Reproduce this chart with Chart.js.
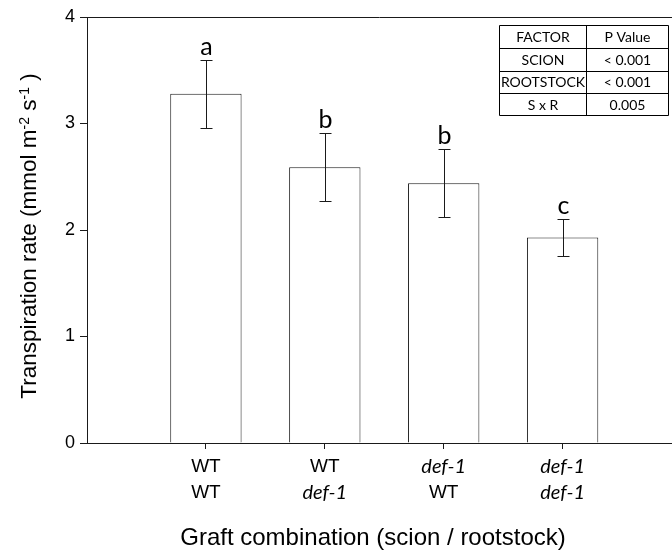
<!DOCTYPE html>
<html>
<head>
<meta charset="utf-8">
<script src="https://cdn.jsdelivr.net/npm/chart.js@4/dist/chart.umd.min.js"></script>
<style>
  body { margin: 0; background: #fff; overflow: hidden; }
  #wrap { width: 672px; height: 552px; position: relative; }
</style>
</head>
<body>
<div id="wrap"><canvas id="mycanvas"></canvas></div>
<script>
// graft combinations: [scion, rootstock]
var categories = [['WT', 'WT'], ['WT', 'def-1'], ['def-1', 'WT'], ['def-1', 'def-1']];
var means = [3.28, 2.59, 2.44, 1.93];
var errors = [0.32, 0.32, 0.32, 0.17];
var letters = ['a', 'b', 'b', 'c'];
var yTicks = [0, 1, 2, 3, 4];
var tableRows = [
	['FACTOR', 'P Value'],
	['SCION', '< 0.001'],
	['ROOTSTOCK', '< 0.001'],
	['S x R', '0.005']
];

var ink = '#1a1a1a';

var extras = {
	id: 'extras',
	afterDatasetsDraw: function(chart) {
		var ctx = chart.ctx;
		var area = chart.chartArea;
		var xs = chart.scales.x;
		var ys = chart.scales.y;
		var bars = chart.getDatasetMeta(0).data;

		ctx.save();
		ctx.strokeStyle = ink;
		ctx.lineWidth = 1;

		// top frame line
		ctx.beginPath();
		ctx.moveTo(area.left, area.top + 0.5);
		ctx.lineTo(area.right, area.top + 0.5);
		ctx.stroke();

		// error bars + letters
		for (var i = 0; i < means.length; i++) {
			var x = Math.round(bars[i].x) + 0.5;
			var top = Math.round(ys.getPixelForValue(means[i] + errors[i])) + 0.5;
			var bot = Math.round(ys.getPixelForValue(means[i] - errors[i])) + 0.5;
			ctx.beginPath();
			ctx.moveTo(x, top); ctx.lineTo(x, bot);
			ctx.moveTo(x - 6, top); ctx.lineTo(x + 6, top);
			ctx.moveTo(x - 6, bot); ctx.lineTo(x + 6, bot);
			ctx.stroke();

			ctx.fillStyle = '#000';
			ctx.font = '25px Lato';
			ctx.textAlign = 'center';
			ctx.textBaseline = 'alphabetic';
			ctx.fillText(letters[i], x, top - 6);
		}

		// x tick labels, two lines each
		ctx.fillStyle = '#000';
		ctx.textBaseline = 'middle';
		ctx.textAlign = 'center';
		for (var j = 0; j < categories.length; j++) {
			var cx = xs.getPixelForValue(j + 1);
			for (var k = 0; k < 2; k++) {
				var t = categories[j][k];
				ctx.font = t === 'WT' ? '19px "Liberation Sans"' : 'italic 20px Lato';
				ctx.fillText(t, cx, area.bottom + 24 + k * 26);
			}
		}

		// x title
		ctx.font = '24px "Liberation Sans"';
		ctx.fillText('Graft combination (scion / rootstock)', 373, area.bottom + 95);

		// y title with superscripts
		var parts = [
			['Transpiration rate (mmol m', false],
			['-2', true],
			[' s', false],
			['-1', true],
			[' )', false]
		];
		var bigFont = '22.5px "Liberation Sans"';
		var supFont = '14px "Liberation Sans"';
		var total = 0;
		parts.forEach(function(p) {
			ctx.font = p[1] ? supFont : bigFont;
			total += ctx.measureText(p[0]).width;
		});
		ctx.save();
		ctx.translate(36, 236);
		ctx.rotate(-Math.PI / 2);
		ctx.textAlign = 'left';
		ctx.textBaseline = 'alphabetic';
		var px = -total / 2;
		parts.forEach(function(p) {
			ctx.font = p[1] ? supFont : bigFont;
			ctx.fillText(p[0], px, p[1] ? -7 : 0);
			px += ctx.measureText(p[0]).width;
		});
		ctx.restore();

		// p-value table
		var tx0 = 499.5, tx1 = 586.5, tx2 = 668.5, ty0 = 25.5, rh = 22.5;
		ctx.strokeStyle = '#000';
		ctx.beginPath();
		ctx.rect(tx0, ty0, tx2 - tx0, rh * tableRows.length);
		ctx.moveTo(tx1, ty0); ctx.lineTo(tx1, ty0 + rh * tableRows.length);
		for (var r = 1; r < tableRows.length; r++) {
			var ry = Math.round(ty0 + rh * r) + 0.5;
			ctx.moveTo(tx0, ry); ctx.lineTo(tx2, ry);
		}
		ctx.stroke();
		ctx.font = '14px Lato';
		ctx.textAlign = 'center';
		ctx.textBaseline = 'middle';
		for (var r2 = 0; r2 < tableRows.length; r2++) {
			var cy = ty0 + rh * r2 + rh / 2 + 1;
			ctx.fillText(tableRows[r2][0], (tx0 + tx1) / 2, cy);
			ctx.fillText(tableRows[r2][1], (tx1 + tx2) / 2, cy);
		}
		ctx.restore();
	}
};

var chartdata = {
	datasets: [{
		label: 'Transpiration rate',
		data: means.map(function(v, i) { return { x: i + 1, y: v }; }),
		backgroundColor: '#ffffff',
		borderColor: ink,
		borderWidth: 1,
		barPercentage: 1,
		categoryPercentage: 0.6
	}]
};

var ctx = document.getElementById('mycanvas');

var barGraph = new Chart(ctx, {
	type: 'bar',
	data: chartdata,
	plugins: [extras],
	options: {
		responsive: true,
		maintainAspectRatio: false,
		animation: false,
		layout: { padding: { top: 17, right: 0, left: 0, bottom: 0 } },
		plugins: { legend: { display: false }, tooltip: { enabled: false } },
		scales: {
			x: {
				type: 'linear',
				min: 0,
				max: 4.92,
				offset: false,
				afterBuildTicks: function(s) {
					s.ticks = categories.map(function(c, i) { return { value: i + 1 }; });
				},
				afterFit: function(s) { s.height = 109; },
				ticks: { display: false },
				grid: { offset: false, drawOnChartArea: false, drawTicks: true, tickLength: 6, color: ink },
				border: { color: ink }
			},
			y: {
				min: 0,
				max: 4,
				afterBuildTicks: function(s) {
					s.ticks = yTicks.map(function(v) { return { value: v }; });
				},
				afterFit: function(s) { s.width = 87; },
				ticks: { font: { family: 'Liberation Sans', size: 18 }, color: '#000', padding: 5 },
				grid: { drawOnChartArea: false, drawTicks: true, tickLength: 7, color: ink },
				border: { color: ink }
			}
		}
	}
});
</script>
</body>
</html>
